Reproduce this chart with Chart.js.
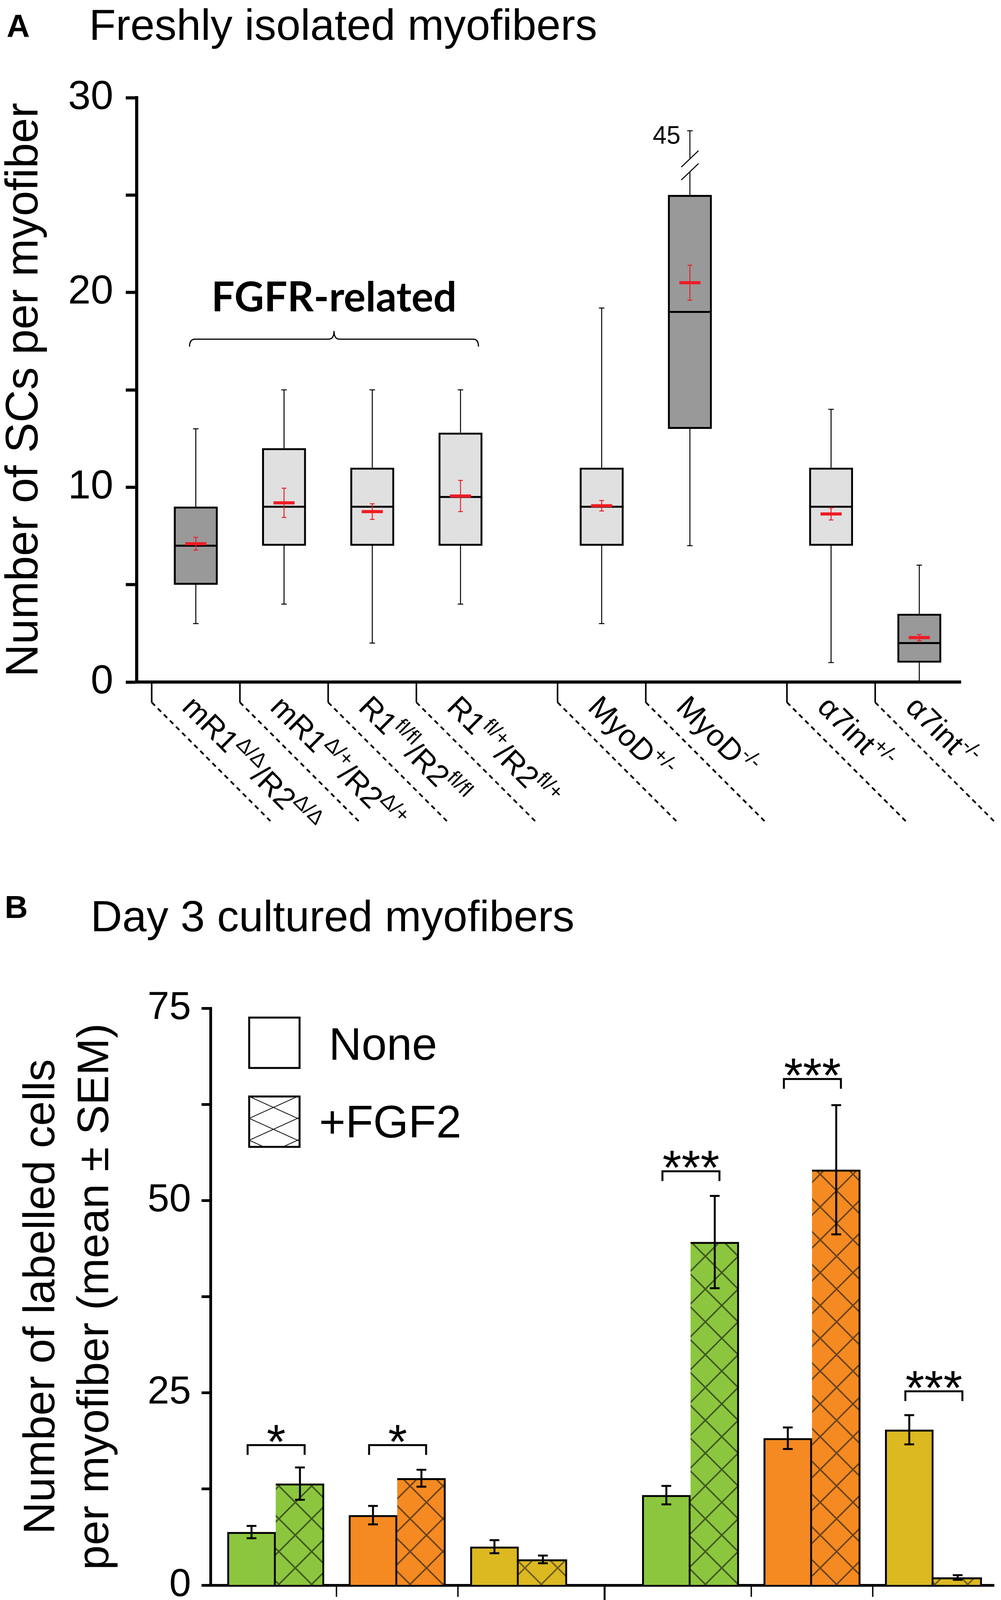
<!DOCTYPE html>
<html>
<head>
<meta charset="utf-8">
<script src="https://cdn.jsdelivr.net/npm/chart.js@4.4.1/dist/chart.umd.min.js"></script>
<style>
html, body { margin: 0; padding: 0; background: #fff; }
.panel { position: absolute; left: 0; width: 2563px; }
#panelA { top: 0; height: 2250px; }
#panelB { top: 2250px; height: 2320px; }
</style>
</head>
<body>
<div class="panel" id="panelA"><canvas id="chartA"></canvas></div>
<div class="panel" id="panelB"><canvas id="chartB"></canvas></div>
<script>
"use strict";

// ---- panel A : satellite cells on freshly isolated fibers (box plots) ----
const boxLabels = ["mR1^{Δ/Δ}/R2^{Δ/Δ}", "mR1^{Δ/+}/R2^{Δ/+}", "R1^{fl/fl}/R2^{fl/fl}", "R1^{fl/+}/R2^{fl/+}",
                   "MyoD^{+/-}", "MyoD^{-/-}", "α7int^{+/-}", "α7int^{-/-}"];
const boxGroup  = [0, 0, 0, 0, 1, 1, 2, 2];
const boxMutant = [true, false, false, false, false, true, false, true];
const boxMin    = [3, 4, 2, 4, 3, 7, 1, 0];
const boxQ1     = [5, 7, 7, 7, 7, 13, 7, 1];
const boxMedian = [7, 9, 9, 9.5, 9, 19, 9, 2];
const boxQ3     = [9, 12, 11, 12.8, 11, 25, 11, 3.5];
const boxMax    = [13, 15, 15, 15, 19.2, 45, 14, 6];
const boxMean   = [7.1, 9.2, 8.75, 9.55, 9.05, 20.5, 8.63, 2.28];
const boxSem    = [0.33, 0.75, 0.4, 0.8, 0.27, 0.9, 0.31, 0.16];
const yTicksA   = [0, 10, 20, 30];

// ---- panel B : day 3 cultured fibers (bars, mean +- SEM) ----
const genes      = ["Pax7", "MyoD", "Myog", "Pax7", "MyoD", "Myog"];
const geneGroup  = [0, 0, 0, 1, 1, 1];
const groupNames = ["mR1^{Δ/Δ}/R2^{Δ/Δ}", "R1^{+/+}/R2^{+/+}"];
const noneMean   = [6.9, 9.1, 5.0, 11.7, 19.1, 20.2];
const noneSem    = [0.8, 1.2, 0.85, 1.2, 1.4, 1.9];
const fgfMean    = [13.2, 13.9, 3.35, 44.6, 54.0, 1.0];
const fgfSem     = [2.1, 1.1, 0.5, 6.0, 8.4, 0.3];
const ratios     = ["1.9", "1.5", "0.7", "3.8", "2.8", "0.1"];
const sigLabels  = ["*", "*", "", "***", "***", "***"];
const sigLevel   = [18.2, 18.2, null, 53.8, 65.8, 25.2];
const yTicksB    = [0, 25, 50, 75];

const FONT = "'Liberation Sans', Arial, Helvetica, sans-serif";
const GAP_A = 0.6, GAP_B = 0.415;
const xA = boxGroup.map((g, i) => i + g * GAP_A);
const xB = geneGroup.map((g, i) => i + g * GAP_B);

const geneColor = { Pax7: "#8cc63f", MyoD: "#f48a21", Myog: "#dcb821" };
const hatchLine = { Pax7: "#3f5a23", MyoD: "#6e4420", Myog: "#6e5e20" };

Chart.defaults.font.family = FONT;
Chart.defaults.color = "#000";

function hatch(base, line, w, h, lw) {
    const c = document.createElement("canvas");
    c.width = w; c.height = h;
    const g = c.getContext("2d");
    g.fillStyle = base;
    g.fillRect(0, 0, w, h);
    g.strokeStyle = line;
    g.lineWidth = lw;
    g.beginPath();
    g.moveTo(-w * 0.1, -h * 0.1); g.lineTo(w * 1.1, h * 1.1);
    g.moveTo(w * 1.1, -h * 0.1); g.lineTo(-w * 0.1, h * 1.1);
    g.stroke();
    return g.createPattern(c, "repeat");
}

// text with ^{superscript} parts
function drawRich(ctx, str, size, supScale, supRaise, align) {
    const parts = str.split(/(\^\{[^}]*\})/).filter(s => s.length).map(s =>
        s.startsWith("^{") ? { t: s.slice(2, -1), sup: true } : { t: s, sup: false });
    const fontOf = p => (p.sup ? size * supScale : size) + "px " + FONT;
    let total = 0;
    parts.forEach(p => { ctx.font = fontOf(p); p.w = ctx.measureText(p.t).width; total += p.w; });
    let px = align === "center" ? -total / 2 : 0;
    ctx.textAlign = "left";
    ctx.textBaseline = "alphabetic";
    parts.forEach(p => {
        ctx.font = fontOf(p);
        ctx.fillText(p.t, px, p.sup ? -size * supRaise : 0);
        px += p.w;
    });
}

function brace(ctx, x1, x2, y, endDy, tipDy) {
    const r = 14, mid = (x1 + x2) / 2;
    ctx.beginPath();
    ctx.moveTo(x1, y + endDy);
    ctx.quadraticCurveTo(x1, y, x1 + r, y);
    ctx.lineTo(mid - r, y);
    ctx.quadraticCurveTo(mid, y, mid, y + tipDy);
    ctx.quadraticCurveTo(mid, y, mid + r, y);
    ctx.lineTo(x2 - r, y);
    ctx.quadraticCurveTo(x2, y, x2, y + endDy);
    ctx.stroke();
}

function segment(ctx, x1, y1, x2, y2) {
    ctx.beginPath(); ctx.moveTo(x1, y1); ctx.lineTo(x2, y2); ctx.stroke();
}

/* ---------------- panel A ---------------- */
const boxPlugin = {
    id: "boxExtras",
    afterDatasetsDraw(chart) {
        const { ctx, scales: { x, y } } = chart;
        ctx.save();
        xA.forEach((pos, i) => {
            const cx = x.getPixelForValue(pos);
            const half = 56;
            ctx.strokeStyle = "#000";
            ctx.lineWidth = 2.5;
            // lower whisker
            const lo = y.getPixelForValue(boxMin[i]);
            segment(ctx, cx, y.getPixelForValue(boxQ1[i]), cx, lo);
            if (boxMin[i] > 0) segment(ctx, cx - 7, lo, cx + 7, lo);
            // upper whisker, broken when it runs off the scale
            const q3 = y.getPixelForValue(boxQ3[i]);
            if (boxMax[i] > y.max) {
                const cap = y.getPixelForValue(y.max - 1.7);
                const b1 = cap + 72, b2 = cap + 105;
                segment(ctx, cx, q3, cx, b2);
                segment(ctx, cx, b1, cx, cap);
                segment(ctx, cx - 7, cap, cx + 7, cap);
                segment(ctx, cx - 22, b1 + 21, cx + 22, b1 - 21);
                segment(ctx, cx - 22, b2 + 21, cx + 22, b2 - 21);
                ctx.fillStyle = "#000";
                ctx.font = "64px " + FONT;
                ctx.textAlign = "right";
                ctx.textBaseline = "alphabetic";
                ctx.fillText(String(boxMax[i]), cx - 24, cap + 33);
            } else {
                const hi = y.getPixelForValue(boxMax[i]);
                segment(ctx, cx, q3, cx, hi);
                segment(ctx, cx - 7, hi, cx + 7, hi);
            }
            // median
            ctx.lineWidth = 5;
            const med = y.getPixelForValue(boxMedian[i]);
            segment(ctx, cx - half, med, cx + half, med);
            // mean +- SEM in red
            ctx.strokeStyle = "#e8202a";
            ctx.lineWidth = 2.5;
            const st = y.getPixelForValue(boxMean[i] + boxSem[i]);
            const sb = y.getPixelForValue(boxMean[i] - boxSem[i]);
            segment(ctx, cx, st, cx, sb);
            segment(ctx, cx - 6, st, cx + 6, st);
            segment(ctx, cx - 6, sb, cx + 6, sb);
            ctx.strokeStyle = "#ee1c24";
            ctx.lineWidth = 8;
            const mp = y.getPixelForValue(boxMean[i]);
            segment(ctx, cx - 27, mp, cx + 27, mp);
        });
        ctx.restore();
    },
    afterDraw(chart) {
        const { ctx, scales: { x, y }, chartArea } = chart;
        ctx.save();
        ctx.fillStyle = "#000";
        ctx.strokeStyle = "#000";
        ctx.textBaseline = "alphabetic";
        ctx.textAlign = "left";
        ctx.font = "bold 82px " + FONT;
        ctx.fillText("A", 17, 94);
        ctx.font = "112px " + FONT;
        ctx.fillText("Freshly isolated myofibers", 228, 102);

        // FGFR-related brace
        const bx1 = x.getPixelForValue(xA[0]) - 16;
        const bx2 = x.getPixelForValue(xA[3]) + 46;
        const by = y.getPixelForValue(17.6);
        ctx.lineWidth = 3;
        brace(ctx, bx1, bx2, by, 19, -21);
        ctx.font = "bold 105px Lato, 'Open Sans', sans-serif";
        ctx.textAlign = "center";
        ctx.fillText("FGFR-related", (bx1 + bx2) / 2, by - 71);

        // category separators, dashed leaders and slanted labels
        const axisY = chartArea.bottom;
        const k = Math.SQRT1_2;
        boxLabels.forEach((lab, i) => {
            const tx = x.getPixelForValue(xA[i] - 0.5);
            const ty = axisY + 52;
            ctx.setLineDash([]);
            ctx.lineWidth = 4;
            segment(ctx, tx, axisY, tx, ty);
            ctx.setLineDash([12, 10]);
            ctx.lineWidth = 4.5;
            segment(ctx, tx, ty, tx + 304, ty + 304);
            ctx.setLineDash([]);
            ctx.save();
            ctx.translate(tx + (64 + 41) * k, ty + (64 - 41) * k);
            ctx.rotate(Math.PI / 4);
            drawRich(ctx, lab, 78, 0.68, 0.42, "left");
            ctx.restore();
        });
        ctx.restore();
    }
};

new Chart(document.getElementById("chartA"), {
    type: "bar",
    data: {
        datasets: [{
            label: "SCs per myofiber",
            data: xA.map((pos, i) => ({ x: pos, y: [boxQ1[i], boxQ3[i]] })),
            backgroundColor: boxMutant.map(m => m ? "#999999" : "#e0e0e0"),
            borderColor: "#000",
            borderWidth: 5,
            borderSkipped: false,
            barThickness: 112
        }]
    },
    options: {
        responsive: true,
        maintainAspectRatio: false,
        animation: false,
        devicePixelRatio: 1,
        layout: { padding: { left: 0, top: 250, right: 103, bottom: 494 } },
        plugins: { legend: { display: false }, tooltip: { enabled: false } },
        scales: {
            x: {
                type: "linear", min: -0.67, max: 8.67, offset: false,
                ticks: { display: false },
                grid: { display: false, offset: false },
                border: { display: true, color: "#000", width: 8 },
                afterFit(s) { s.height = 10; }
            },
            y: {
                min: 0, max: 30,
                ticks: {
                    stepSize: 5, padding: 32, color: "#000",
                    font: { size: 104 },
                    callback: v => yTicksA.includes(v) ? String(v) : ""
                },
                grid: { drawOnChartArea: false, tickLength: 28, tickWidth: 8, tickColor: "#000" },
                border: { color: "#000", width: 8 },
                title: {
                    display: true, text: "Number of SCs per myofiber", color: "#000",
                    font: { size: 116, lineHeight: 1.1 }, padding: { top: 0, bottom: 0 }
                },
                afterFit(s) { s.width = 350; }
            }
        }
    },
    plugins: [boxPlugin]
});

/* ---------------- panel B ---------------- */
const noneFill = genes.map(g => geneColor[g]);
const fgfPattern = genes.map(g => hatch(geneColor[g], hatchLine[g], 84, 84, 4));
const legendHatch = hatch("#fff", "#000", 124, 56, 2);

const barPlugin = {
    id: "barExtras",
    afterDatasetsDraw(chart) {
        const { ctx, scales: { y } } = chart;
        const metaNone = chart.getDatasetMeta(0), metaFgf = chart.getDatasetMeta(1);
        ctx.save();
        ctx.strokeStyle = "#000";
        ctx.fillStyle = "#000";
        // error bars (SEM)
        [[metaNone, noneMean, noneSem], [metaFgf, fgfMean, fgfSem]].forEach(([meta, m, s]) => {
            meta.data.forEach((bar, i) => {
                const top = y.getPixelForValue(m[i] + s[i]);
                const bot = y.getPixelForValue(Math.max(m[i] - s[i], 0));
                ctx.lineWidth = 5;
                segment(ctx, bar.x, top, bar.x, bot);
                segment(ctx, bar.x - 12.5, top, bar.x + 12.5, top);
                segment(ctx, bar.x - 12.5, bot, bar.x + 12.5, bot);
            });
        });
        // significance brackets
        sigLabels.forEach((lab, i) => {
            if (!lab) return;
            const l = metaNone.data[i].x - 10, r = metaFgf.data[i].x + 12;
            const by = y.getPixelForValue(sigLevel[i]);
            ctx.lineWidth = 5;
            ctx.beginPath();
            ctx.moveTo(l, by + 25); ctx.lineTo(l, by); ctx.lineTo(r, by); ctx.lineTo(r, by + 25);
            ctx.stroke();
            ctx.font = "125px " + FONT;
            ctx.textAlign = "center";
            ctx.textBaseline = "alphabetic";
            ctx.fillText(lab, (l + r) / 2, by + 34);
        });
        ctx.restore();
    },
    afterDraw(chart) {
        const { ctx, scales: { x }, chartArea } = chart;
        const metaNone = chart.getDatasetMeta(0), metaFgf = chart.getDatasetMeta(1);
        ctx.save();
        ctx.fillStyle = "#000";
        ctx.strokeStyle = "#000";
        ctx.textBaseline = "alphabetic";
        ctx.textAlign = "left";
        ctx.font = "bold 82px " + FONT;
        ctx.fillText("B", 12, 100);
        ctx.font = "112px " + FONT;
        ctx.fillText("Day 3 cultured myofibers", 232, 134);

        // legend
        const lx = 638, lw = 129;
        ctx.lineWidth = 5;
        ctx.fillStyle = "#fff";
        ctx.fillRect(lx, 355, lw, lw);
        ctx.strokeRect(lx, 355, lw, lw);
        legendHatch.setTransform(new DOMMatrix().translate(lx, 557));
        ctx.fillStyle = legendHatch;
        ctx.fillRect(lx, 557, lw, lw);
        ctx.strokeRect(lx, 557, lw, lw);
        ctx.fillStyle = "#000";
        ctx.font = "116px " + FONT;
        ctx.fillText(chart.data.datasets[0].label, 842, 463);
        ctx.fillText(chart.data.datasets[1].label, 817, 662);

        // separators under the axis
        const axisY = chartArea.bottom;
        for (let i = 0; i < xB.length - 1; i++) {
            const mx = x.getPixelForValue((xB[i] + xB[i + 1]) / 2);
            const major = geneGroup[i] !== geneGroup[i + 1];
            ctx.lineWidth = major ? 5 : 3.5;
            segment(ctx, mx, axisY, mx, axisY + (major ? 62 : 30));
        }

        // gene names and ratios
        ctx.textAlign = "center";
        genes.forEach((g, i) => {
            const cx = x.getPixelForValue(xB[i]);
            ctx.font = "78px " + FONT;
            ctx.fillText(g, cx, 1945);
            ctx.font = "76px " + FONT;
            ctx.fillText(ratios[i], cx, 2079);
        });
        ctx.font = "88px " + FONT;
        ctx.fillText("Ratio", 298, 2079);
        ctx.font = "68px " + FONT;
        ctx.fillText("(FGF2 / None)", 296, 2184);

        // genotype braces and names
        groupNames.forEach((name, gi) => {
            const idx = geneGroup.map((g, i) => g === gi ? i : -1).filter(i => i >= 0);
            const first = idx[0], last = idx[idx.length - 1];
            const x1 = metaNone.data[first].x - 62 + 6;
            const x2 = metaFgf.data[last].x + 62 - 8;
            ctx.lineWidth = 3;
            brace(ctx, x1, x2, 2141, -21, 20);
            ctx.save();
            ctx.translate(x.getPixelForValue(xB[idx[Math.floor(idx.length / 2)]]), 2292);
            drawRich(ctx, name, 94, 0.76, 0.42, "center");
            ctx.restore();
        });
        ctx.restore();
    }
};

new Chart(document.getElementById("chartB"), {
    type: "bar",
    data: {
        datasets: [
            {
                label: "None",
                data: xB.map((pos, i) => ({ x: pos, y: noneMean[i] })),
                backgroundColor: noneFill,
                borderColor: "#000",
                borderWidth: { top: 5, right: 5, bottom: 0, left: 5 },
                borderSkipped: false,
                barThickness: 124
            },
            {
                label: "+FGF2",
                data: xB.map((pos, i) => ({ x: pos, y: fgfMean[i] })),
                backgroundColor: fgfPattern,
                borderColor: "#000",
                borderWidth: { top: 5, right: 5, bottom: 0, left: 0 },
                borderSkipped: false,
                barThickness: 124
            }
        ]
    },
    options: {
        responsive: true,
        maintainAspectRatio: false,
        animation: false,
        devicePixelRatio: 1,
        layout: { padding: { left: 0, top: 331, right: 18, bottom: 502 } },
        plugins: { legend: { display: false }, tooltip: { enabled: false } },
        scales: {
            x: {
                type: "linear", min: -0.537, max: 5.913, offset: false,
                ticks: { display: false },
                grid: { display: false, offset: false },
                border: { display: true, color: "#000", width: 7 },
                afterFit(s) { s.height = 10; }
            },
            y: {
                min: 0, max: 75,
                ticks: {
                    stepSize: 12.5, padding: 27, color: "#000",
                    font: { size: 100 },
                    callback: v => yTicksB.includes(v) ? String(v) : ""
                },
                grid: { drawOnChartArea: false, tickLength: 23, tickWidth: 7, tickColor: "#000" },
                border: { color: "#000", width: 7 },
                title: {
                    display: true,
                    text: ["Number of labelled cells", "per myofiber (mean ± SEM)"],
                    color: "#000",
                    font: { size: 114, lineHeight: 1.21 },
                    padding: { top: 39, bottom: 0 }
                },
                afterFit(s) { s.width = 539; }
            }
        }
    },
    plugins: [barPlugin]
});
</script>
</body>
</html>
